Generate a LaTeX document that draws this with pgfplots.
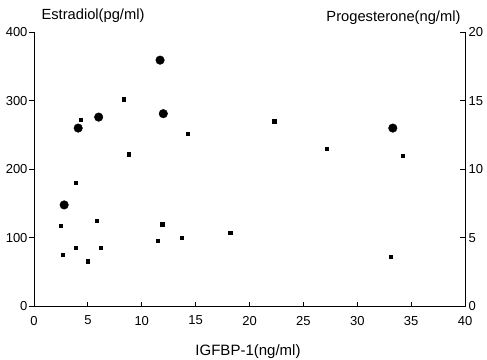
\documentclass[border=0pt]{standalone}
\usepackage{fontspec}
\setmainfont{Liberation Sans}
\usepackage{pgfplots}
\pgfplotsset{compat=1.18}
\begin{document}
\begin{tikzpicture}
\pgfplotsset{
  common/.style={
    at={(0,0)}, anchor=south west,
    scale only axis, width=431pt, height=274.5pt,
    xmin=0, xmax=40,
    /pgf/number format/assume math mode=true,
    tick label style={font=\fontsize{13}{13}\selectfont},
    axis line style={line width=1pt},
    major tick length=5pt,
    tick style={line width=0.8pt, black},
  }
}
% Estradiol (left axis)
\begin{axis}[common,
  ymin=0, ymax=400,
  hide x axis,
  axis y line*=left,
  ytick={0,100,200,300,400},
  tick align=outside,
  yticklabel style={xshift=2pt},
]
\addplot[only marks, mark=*, mark size=4.3pt, black] coordinates {
 (2.8,148) (4.1,260) (6.0,276) (11.7,359) (12.0,281) (33.3,260)
};
\end{axis}
% Progesterone (right axis) + x axis
\begin{axis}[common,
  ymin=0, ymax=20,
  axis x line*=bottom,
  axis y line*=right,
  xtick={0,5,...,40},
  ytick={0,5,10,15,20},
  tick align=inside,
  xticklabel style={yshift=-6pt},
]
\addplot[only marks, mark=square*, mark size=1.6pt, black] coordinates {
 (4.3,13.6) (8.3,15.1) (8.8,11.1) (14.3,12.6) (22.3,13.5) (27.2,11.5)
 (34.2,11.0) (3.9,9.0) (2.5,5.9) (5.8,6.25) (11.9,6.0) (2.7,3.8)
 (3.9,4.3) (5.0,3.3) (6.2,4.3) (11.5,4.8) (13.7,5.0) (18.2,5.4) (33.1,3.6)
};
\end{axis}
\node[anchor=west, font=\fontsize{14.7}{14.7}\selectfont] at (4pt,290.5pt) {Estradiol(pg/ml)};
\node[anchor=east, font=\fontsize{14.7}{14.7}\selectfont] at (430pt,288.5pt) {Progesterone(ng/ml)};
\node[font=\fontsize{15}{15}\selectfont] at (214pt,-45.5pt) {IGFBP-1(ng/ml)};
\pgfresetboundingbox
\path (-34pt,-52.5pt) rectangle (453pt,306.5pt);
\end{tikzpicture}
\end{document}
